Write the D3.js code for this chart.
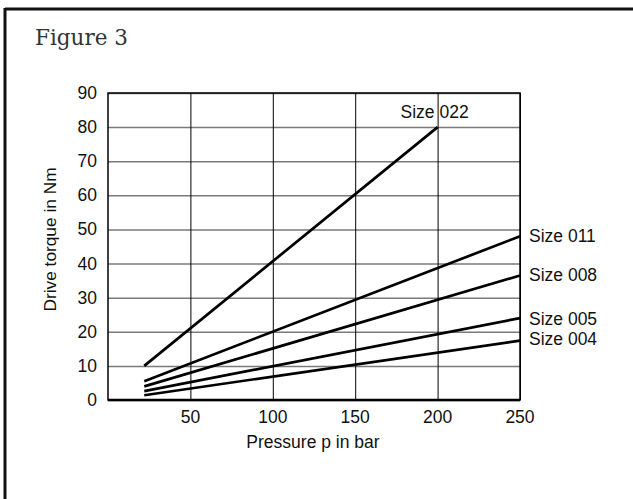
<!DOCTYPE html>
<html>
<head>
<meta charset="utf-8">
<script src="https://cdn.jsdelivr.net/npm/d3@7"></script>
<style>
  html, body { margin: 0; padding: 0; background: #fff; }
  svg { display: block; }
</style>
</head>
<body>
<svg id="fig"></svg>
<script>
// drive torque vs pressure, one line per size
const sizes = ["Size 022", "Size 011", "Size 008", "Size 005", "Size 004"];
const pressureStart = [22, 22, 22, 22, 22];
const pressureEnd = [200, 250, 250, 250, 250];
const torqueStart = [10, 5.5, 4, 2.6, 1.4];
const torqueEnd = [80, 48, 36.5, 24, 17.4];

const xTicks = [50, 100, 150, 200, 250];
const yTicks = [0, 10, 20, 30, 40, 50, 60, 70, 80, 90];

const width = 633;
const height = 499;
const margin = {'top': 93, 'right': 113, 'bottom': 99, 'left': 108};
const innerWidth = width - margin.left - margin.right;
const innerHeight = height - margin.top - margin.bottom;
const sans = 'Liberation Sans, Arial, sans-serif';

const svg = d3.select('svg#fig')
  .attr('width', width)
  .attr('height', height);

// outer frame (only top and left edges are visible)
svg.append('line')
  .attr('x1', 5).attr('x2', width).attr('y1', 9).attr('y2', 9)
  .attr('stroke', '#111').attr('stroke-width', 3);
svg.append('line')
  .attr('x1', 5).attr('x2', 5).attr('y1', 8).attr('y2', height)
  .attr('stroke', '#111').attr('stroke-width', 3);

svg.append('text')
  .attr('x', 35).attr('y', 45)
  .attr('font-family', 'DejaVu Serif')
  .attr('font-size', 21.5)
  .attr('fill', '#333')
  .text('Figure 3');

const graph = svg.append('g')
  .attr('transform', `translate(${margin.left}, ${margin.top})`);

const x = d3.scaleLinear().domain([0, 250]).range([0, innerWidth]);
const y = d3.scaleLinear().domain([0, 90]).range([innerHeight, 0]);

// horizontal grid (grey)
graph.append('g')
  .call(d3.axisLeft(y).tickValues(yTicks).tickSize(-innerWidth).tickFormat(''))
  .call(g => g.select('.domain').remove())
  .call(g => g.selectAll('text').remove())
  .call(g => g.selectAll('line').attr('stroke', '#7a7a7a').attr('stroke-width', 1.5));

// vertical grid (black)
graph.append('g')
  .attr('transform', `translate(0, ${innerHeight})`)
  .call(d3.axisBottom(x).tickValues(xTicks).tickSize(-innerHeight).tickFormat(''))
  .call(g => g.select('.domain').remove())
  .call(g => g.selectAll('text').remove())
  .call(g => g.selectAll('line').attr('stroke', '#000').attr('stroke-width', 1));

// plot frame
graph.append('rect')
  .attr('width', innerWidth).attr('height', innerHeight)
  .attr('fill', 'none').attr('stroke', '#000').attr('stroke-width', 1.5);
graph.append('line')
  .attr('x1', 0).attr('x2', innerWidth)
  .attr('y1', innerHeight).attr('y2', innerHeight)
  .attr('stroke', '#000').attr('stroke-width', 2.5);

// tick labels
graph.selectAll('text.ytick')
  .data(yTicks)
  .enter()
  .append('text')
    .attr('class', 'ytick')
    .attr('x', -11)
    .attr('y', d => y(d) + 6)
    .attr('text-anchor', 'end')
    .attr('font-family', sans).attr('font-size', 17.5).attr('fill', '#111')
    .text(d => d);

graph.selectAll('text.xtick')
  .data(xTicks)
  .enter()
  .append('text')
    .attr('class', 'xtick')
    .attr('x', d => x(d))
    .attr('y', innerHeight + 23)
    .attr('text-anchor', 'middle')
    .attr('font-family', sans).attr('font-size', 17.5).attr('fill', '#111')
    .text(d => d);

// axis titles
graph.append('text')
  .attr('x', innerWidth / 2 - 1).attr('y', innerHeight + 48)
  .attr('text-anchor', 'middle')
  .attr('font-family', sans)
  .attr('font-size', 17.5).attr('fill', '#111')
  .text('Pressure p in bar');

graph.append('text')
  .attr('transform', `translate(-52, ${innerHeight / 2 - 7}) rotate(-90)`)
  .attr('text-anchor', 'middle')
  .attr('font-family', sans)
  .attr('font-size', 17.3).attr('fill', '#111')
  .text('Drive torque in Nm');

// data lines
const data = sizes.map((s, i) => ({
  name: s,
  pts: [[pressureStart[i], torqueStart[i]], [pressureEnd[i], torqueEnd[i]]]
}));

const line = d3.line().x(d => x(d[0])).y(d => y(d[1]));

graph.selectAll('path.size')
  .data(data)
  .enter()
  .append('path')
    .attr('class', 'size')
    .attr('d', d => line(d.pts))
    .attr('fill', 'none')
    .attr('stroke', '#000')
    .attr('stroke-width', 2.7);

// labels: Size 022 sits above its end point, the others right of the plot
const labelOffsetY = [-15, 0, 0, 1, -2];
data.forEach((d, i) => {
  const end = d.pts[1];
  const t = graph.append('text')
    .attr('font-family', sans)
    .attr('font-size', 17.5).attr('fill', '#111')
    .attr('y', y(end[1]) + labelOffsetY[i] + 6)
    .text(d.name);
  if (i === 0) {
    t.attr('x', x(end[0]) - 3).attr('text-anchor', 'middle');
  } else {
    t.attr('x', innerWidth + 9);
  }
});
</script>
</body>
</html>
